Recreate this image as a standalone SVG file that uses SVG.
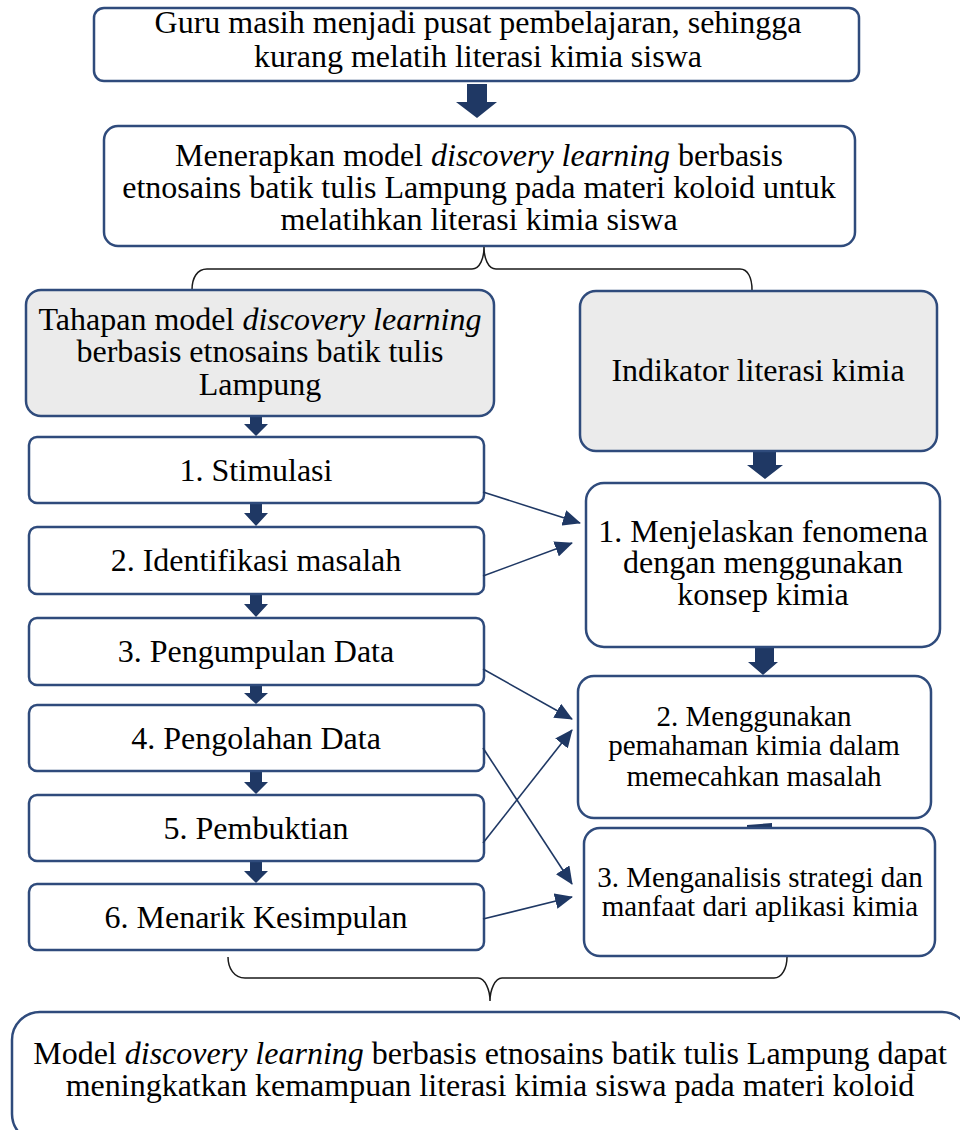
<svg xmlns="http://www.w3.org/2000/svg" width="960" height="1130" viewBox="0 0 960 1130">
<defs>
<style>
.box{fill:#ffffff;stroke:#2f4b7c;stroke-width:2.5}
.gray{fill:#ebebeb;stroke:#2f4b7c;stroke-width:2.5}
.t{font-family:"Liberation Serif","Times New Roman",serif;font-size:32px;fill:#000;text-anchor:middle}
.s{font-size:29px}
.i{font-style:italic}
.blk{fill:#1f3864}
.con{stroke:#1f3864;stroke-width:1.6;fill:none;marker-end:url(#ah)}
.brace{stroke:#1a1a1a;stroke-width:1.5;fill:none}
</style>
<marker id="ah" markerUnits="userSpaceOnUse" markerWidth="18" markerHeight="16" viewBox="0 0 18 16" refX="17" refY="8" orient="auto">
<path d="M0,0 L18,8 L0,16 z" fill="#1f3864"/>
</marker>
</defs>

<g id="arrows-block">
<path class="blk" d="M467,84 H487 V102 H497 L477,118 L456,102 H467 Z"/>
<path class="blk" d="M250,415 H262 V424 H268 L256,436 L244,424 H250 Z"/>
<path class="blk" d="M250,503 H262 V513 H268 L256,526 L244,513 H250 Z"/>
<path class="blk" d="M250,594 H262 V604 H268 L256,617 L244,604 H250 Z"/>
<path class="blk" d="M250,685 H262 V693 H268 L256,704 L244,693 H250 Z"/>
<path class="blk" d="M250,771 H262 V782 H268 L256,794 L244,782 H250 Z"/>
<path class="blk" d="M250,861 H262 V871 H268 L256,883 L244,871 H250 Z"/>
<path class="blk" d="M753,451 H776 V465 H783 L765,479 L747,465 H753 Z"/>
<path class="blk" d="M755,645 H774 V662 H778 L763,675 L748,662 H755 Z"/>
<path class="blk" d="M747,825 L772,823 V832 H747 Z"/>
</g>

<g id="n-top">
<rect class="box" x="94" y="8" width="765" height="73" rx="10"/>
<text class="t" x="478" y="33">Guru masih menjadi pusat pembelajaran, sehingga</text>
<text class="t" x="478" y="67">kurang melatih literasi kimia siswa</text>
</g>

<g id="n-apply">
<rect class="box" x="104" y="126" width="751" height="120" rx="14"/>
<text class="t" x="479" y="166">Menerapkan model <tspan class="i">discovery learning</tspan> berbasis</text>
<text class="t" x="479" y="198">etnosains batik tulis Lampung pada materi koloid untuk</text>
<text class="t" x="479" y="230">melatihkan literasi kimia siswa</text>
</g>

<g id="braces">
<path class="brace" d="M192,290 C192,278 197,269 207,269 L472,269 C480,269 484,258 484,247 C484,258 488,269 496,269 L740,269 C748,269 752,278 752,290"/>
<path class="brace" d="M228,957 C228,968 234,978 245,978 L478,978 C485,978 490,990 490,1001 C490,990 495,978 502,978 L774,978 C782,978 787,968 787,957"/>
</g>

<g id="n-stages-head">
<rect class="gray" x="26" y="290" width="468" height="126" rx="15"/>
<text class="t" x="260" y="330">Tahapan model <tspan class="i">discovery learning</tspan></text>
<text class="t" x="260" y="362">berbasis etnosains batik tulis</text>
<text class="t" x="260" y="395">Lampung</text>
</g>

<g id="n-ind-head">
<rect class="gray" x="580" y="291" width="357" height="160" rx="16"/>
<text class="t" x="758" y="381">Indikator literasi kimia</text>
</g>

<g id="n-s1"><rect class="box" x="29" y="437" width="455" height="66" rx="8"/><text class="t" x="256" y="481">1. Stimulasi</text></g>
<g id="n-s2"><rect class="box" x="29" y="527" width="455" height="67" rx="8"/><text class="t" x="256" y="571">2. Identifikasi masalah</text></g>
<g id="n-s3"><rect class="box" x="29" y="618" width="455" height="67" rx="8"/><text class="t" x="256" y="662">3. Pengumpulan Data</text></g>
<g id="n-s4"><rect class="box" x="29" y="705" width="455" height="66" rx="8"/><text class="t" x="256" y="749">4. Pengolahan Data</text></g>
<g id="n-s5"><rect class="box" x="29" y="795" width="455" height="66" rx="8"/><text class="t" x="256" y="839">5. Pembuktian</text></g>
<g id="n-s6"><rect class="box" x="29" y="884" width="455" height="66" rx="8"/><text class="t" x="256" y="928">6. Menarik Kesimpulan</text></g>

<g id="n-i1">
<rect class="box" x="586" y="483" width="354" height="164" rx="18"/>
<text class="t" x="763" y="542">1. Menjelaskan fenomena</text>
<text class="t" x="763" y="573">dengan menggunakan</text>
<text class="t" x="763" y="605">konsep kimia</text>
</g>

<g id="n-i2">
<rect class="box" x="578" y="676" width="353" height="142" rx="16"/>
<text class="t s" x="754" y="726">2. Menggunakan</text>
<text class="t s" x="754" y="755">pemahaman kimia dalam</text>
<text class="t s" x="754" y="786">memecahkan masalah</text>
</g>

<g id="n-i3">
<rect class="box" x="584" y="828" width="351" height="128" rx="16"/>
<text class="t s" x="760" y="887">3. Menganalisis strategi dan</text>
<text class="t s" x="760" y="916">manfaat dari aplikasi kimia</text>
</g>

<g id="connectors">
<line class="con" x1="483" y1="492" x2="580" y2="523"/>
<line class="con" x1="483" y1="576" x2="572" y2="543"/>
<line class="con" x1="483" y1="669" x2="572" y2="719"/>
<line class="con" x1="483" y1="748" x2="572" y2="884"/>
<line class="con" x1="483" y1="843" x2="572" y2="730"/>
<line class="con" x1="483" y1="919" x2="572" y2="897"/>
</g>

<g id="n-result">
<rect class="box" x="12" y="1012" width="958" height="130" rx="28"/>
<text class="t" x="490" y="1064">Model <tspan class="i">discovery learning</tspan> berbasis etnosains batik tulis Lampung dapat</text>
<text class="t" x="490" y="1096">meningkatkan kemampuan literasi kimia siswa pada materi koloid</text>
</g>
</svg>
